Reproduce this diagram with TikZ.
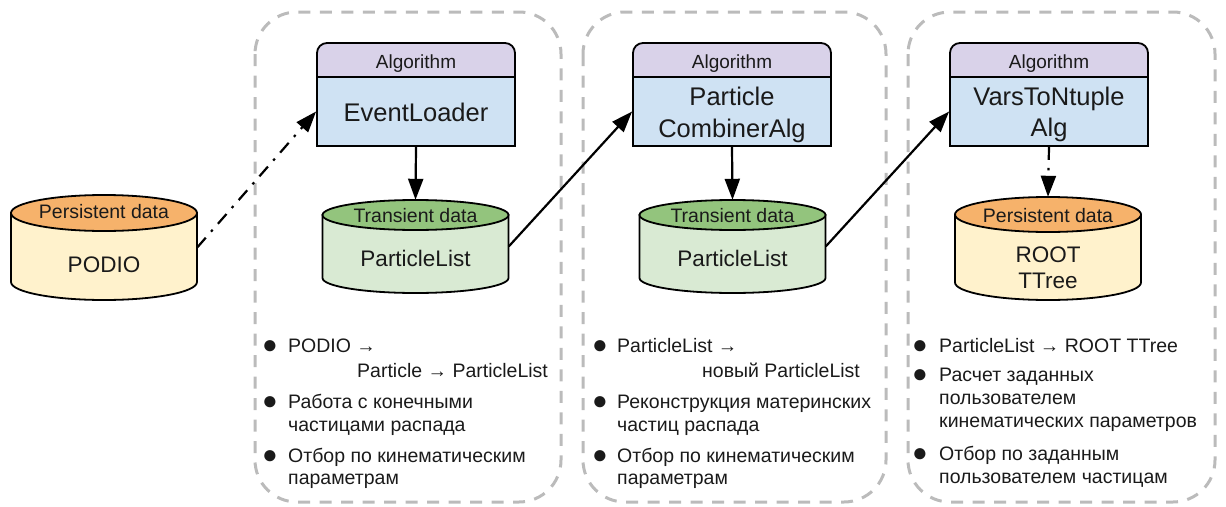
\documentclass[tikz,border=0pt]{standalone}
\usepackage{fontspec}
\setmainfont{Liberation Sans}
\usetikzlibrary{arrows.meta}

\definecolor{algtopc}{HTML}{D9D2E9}
\definecolor{algbodyc}{HTML}{CFE2F3}
\definecolor{transtop}{HTML}{93C47D}
\definecolor{transbody}{HTML}{D9EAD3}
\definecolor{perstop}{HTML}{F6B26B}
\definecolor{persbody}{HTML}{FFF2CC}
\definecolor{groupc}{HTML}{BBBBBB}
\definecolor{inkc}{HTML}{1A1A1A}

\tikzset{
  algline/.style={draw=black, line width=1.8pt},
  cylline/.style={draw=black, line width=1.8pt},
  algbox/.style={algline, fill=algbodyc, minimum width=198pt, minimum height=69pt, inner sep=0pt},
  algtitle/.style={anchor=base, inner sep=0pt, text=inkc, font=\fontsize{19}{22}\selectfont},
  algname/.style={anchor=base, inner sep=0pt, text=inkc, font=\fontsize{25.5}{30}\selectfont},
  cyltitle/.style={anchor=base, inner sep=0pt, text=inkc, font=\fontsize{19.5}{22}\selectfont},
  cylname/.style={anchor=base, inner sep=0pt, text=inkc, font=\fontsize{22.5}{28}\selectfont},
  group/.style={draw=groupc, line width=3pt, dash pattern=on 12pt off 9.5pt, rounded corners=42pt},
  flow/.style={line width=2.2pt, -{Triangle[length=21pt,width=15pt]}},
  dashdot/.style={dash pattern=on 13pt off 8pt on 2.5pt off 8pt},
  item/.style={anchor=base west, inner sep=0pt, text=inkc, font=\fontsize{19.5}{23}\selectfont},
  dotitem/.style={anchor=base west, inner sep=0pt, text=inkc, yshift=-1pt, font=\fontsize{26}{28}\selectfont},
}

% database cylinder: name, centre x, top y, bottom y, ellipse half-height, colour kind
\newcommand{\dbcyl}[6]{%
  \path[cylline, fill=#6body] ({#2-93},{#3+#5}) -- ({#2-93},{#4-#5})
     arc[start angle=180, end angle=360, x radius=93pt, y radius=#5pt]
     -- ({#2+93},{#3+#5}) -- cycle;
  \path[cylline, fill=#6top] (#2,{#3+#5}) ellipse[x radius=93pt, y radius=#5pt];
  \node[inner sep=0pt, minimum width=186pt, minimum height={(#4-#3)*1pt}] (#1) at (#2,{(#3+#4)/2}) {};
}

% algorithm block: name, centre x
\newcommand{\algblock}[2]{%
  \path[algline, fill=algtopc, rounded corners=10pt] ({#2-99},43) rectangle ({#2+99},95);
  \node[algbox] (#1) at (#2,111.5) {};
  \node[algtitle] (#1-title) at (#2,68) {Algorithm};
}

\begin{document}
\begin{tikzpicture}[x=1pt, y=-1pt]
\useasboundingbox (0,0) rectangle (1226,506);

% processing stages
\draw[group] (255,12) rectangle (561,502);
\draw[group] (583,12) rectangle (886,502);
\draw[group] (908,12) rectangle (1215,502);

% algorithms
\algblock{ev}{416}
\node[algname] (ev-l1) at (416,121) {EventLoader};
\algblock{comb}{732}
\node[algname] (comb-l1) at (732,105) {Particle};
\node[algname] (comb-l2) at (732,137) {CombinerAlg};
\algblock{vars}{1049}
\node[algname] (vars-l1) at (1049,105) {VarsToNtuple};
\node[algname] (vars-l2) at (1049,136) {Alg};

% data stores
\dbcyl{podio}{104}{195}{300}{18}{pers}
\node[cyltitle] (podio-t) at (104,218) {Persistent data};
\node[cylname] (podio-l) at (104,272) {PODIO};

\dbcyl{pl1}{415.5}{200}{293}{15}{trans}
\node[cyltitle] (pl1-t) at (415.5,222) {Transient data};
\node[cylname] (pl1-l) at (415.5,266) {ParticleList};

\dbcyl{pl2}{732.5}{200}{293}{15}{trans}
\node[cyltitle] (pl2-t) at (732.5,222) {Transient data};
\node[cylname] (pl2-l) at (732.5,266) {ParticleList};

\dbcyl{root}{1048}{197}{300}{17.5}{pers}
\node[cyltitle] (root-t) at (1048,222) {Persistent data};
\node[cylname] (root-l1) at (1048,262) {ROOT};
\node[cylname] (root-l2) at (1048,288) {TTree};

% data flow
\draw[flow, dashdot] (podio.east) -- (ev.west);
\draw[flow] (ev.south) -- (pl1.north);
\draw[flow] (pl1.east) -- (comb.west);
\draw[flow] (comb.south) -- (pl2.north);
\draw[flow] (pl2.east) -- (vars.west);
\draw[flow, dashdot] (vars.south) -- (root.north);

% stage 1 notes
\node[dotitem] (b1a) at (262,352) {●};
\node[item] (t1a) at (288,352) {PODIO →};
\node[item] (t1b) at (357,377) {Particle → ParticleList};
\node[dotitem] (b1b) at (262,408) {●};
\node[item] (t1c) at (288,408) {Работа с конечными};
\node[item] (t1d) at (288,431) {частицами распада};
\node[dotitem] (b1c) at (262,462) {●};
\node[item] (t1e) at (288,462) {Отбор по кинематическим};
\node[item] (t1f) at (288,484) {параметрам};

% stage 2 notes
\node[dotitem] (b2a) at (592,352) {●};
\node[item] (t2a) at (617,352) {ParticleList →};
\node[item] (t2b) at (702,377) {новый ParticleList};
\node[dotitem] (b2b) at (592,408) {●};
\node[item] (t2c) at (617,408) {Реконструкция материнских};
\node[item] (t2d) at (617,431) {частиц распада};
\node[dotitem] (b2c) at (592,462) {●};
\node[item] (t2e) at (617,462) {Отбор по кинематическим};
\node[item] (t2f) at (617,484) {параметрам};

% stage 3 notes
\node[dotitem] (b3a) at (912,352) {●};
\node[item] (t3a) at (939,352) {ParticleList → ROOT TTree};
\node[dotitem] (b3b) at (912,381) {●};
\node[item] (t3b) at (939,381) {Расчет заданных};
\node[item] (t3c) at (939,404) {пользователем};
\node[item] (t3d) at (939,427) {кинематических параметров};
\node[dotitem] (b3c) at (912,460) {●};
\node[item] (t3e) at (939,460) {Отбор по заданным};
\node[item] (t3f) at (939,483) {пользователем частицам};
\end{tikzpicture}
\end{document}
